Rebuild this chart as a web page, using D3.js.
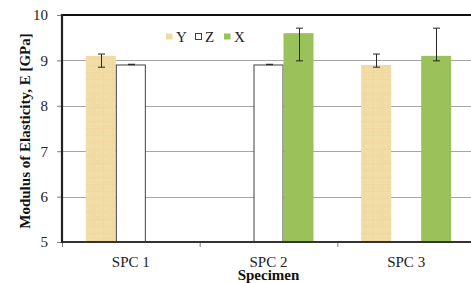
<!DOCTYPE html>
<html>
<head>
<meta charset="utf-8">
<script src="https://d3js.org/d3.v7.min.js"></script>
<style>
body { margin: 0; background: #fff; }
svg { display: block; }
text { font-family: "Liberation Serif", "Times New Roman", serif; }
</style>
</head>
<body>
<svg width="471" height="283"></svg>
<script>

// chart values
var categories = ["SPC 1", "SPC 2", "SPC 3"];
var seriesNames = ["Y", "Z", "X"];
var yValues = [9.1, null, 8.9];
var yErrPlus = [0.04, null, 0.24];
var yErrMinus = [0.25, null, 0.05];
var zValues = [8.91, 8.91, null];
var zErrPlus = [0.005, 0.005, null];
var zErrMinus = [0.005, 0.005, null];
var xValues = [null, 9.6, 9.1];
var xErrPlus = [null, 0.11, 0.61];
var xErrMinus = [null, 0.61, 0.11];
var yTicks = [5, 6, 7, 8, 9, 10];

var svg = d3.select("svg");

// note: "top" is taken by window.top, so plot edges get their own names
var plotL = 62, plotR = 475, plotT = 15, plotB = 242;

var defs = svg.append("defs");
// papyrus-ish texture for the Y bars
var pat = defs.append("pattern")
    .attr("id", "papyrus")
    .attr("patternUnits", "userSpaceOnUse")
    .attr("width", 9).attr("height", 7);
pat.append("rect").attr("width", 9).attr("height", 7).attr("fill", "#f2dca5");
pat.append("rect").attr("x", 0).attr("y", 2).attr("width", 9).attr("height", 1).attr("fill", "#eed59c").attr("opacity", 0.6);
pat.append("rect").attr("x", 4).attr("y", 0).attr("width", 1).attr("height", 7).attr("fill", "#eed49a").attr("opacity", 0.4);
pat.append("rect").attr("x", 6).attr("y", 5).attr("width", 2).attr("height", 1).attr("fill", "#f6e3b4").attr("opacity", 0.7);

var fills = { Y: "url(#papyrus)", Z: "#ffffff", X: "#9bc25a" };
var strokes = { Y: "none", Z: "#404040", X: "none" };

var y = d3.scaleLinear().domain([5, 10]).range([plotB, plotT]);
var x0 = d3.scaleBand().domain(categories).range([plotL, plotR]).padding(0);
var x1 = d3.scaleBand().domain(seriesNames).range([0, x0.bandwidth()])
    .paddingInner(0).paddingOuter(0.794);

// gridlines
svg.append("g").selectAll("line")
  .data(yTicks.filter(function(t) { return t > 5 && t < 10; }))
  .enter().append("line")
    .attr("x1", plotL).attr("x2", plotR)
    .attr("y1", function(d) { return Math.round(y(d)) + 0.5; })
    .attr("y2", function(d) { return Math.round(y(d)) + 0.5; })
    .attr("stroke", "#a6a6a6").attr("stroke-width", 1);

// bars
var rows = [];
categories.forEach(function(c, i) {
  rows.push({ cat: c, s: "Y", v: yValues[i], ep: yErrPlus[i], em: yErrMinus[i] });
  rows.push({ cat: c, s: "Z", v: zValues[i], ep: zErrPlus[i], em: zErrMinus[i] });
  rows.push({ cat: c, s: "X", v: xValues[i], ep: xErrPlus[i], em: xErrMinus[i] });
});
rows = rows.filter(function(d) { return d.v != null; });

svg.append("g").selectAll("rect")
  .data(rows)
  .enter().append("rect")
    .attr("x", function(d) { return x0(d.cat) + x1(d.s) + (d.s == "Z" ? 0.5 : 0); })
    .attr("y", function(d) { return y(d.v) + (d.s == "Z" ? 0.5 : 0); })
    .attr("width", function(d) { return x1.bandwidth() - (d.s == "Z" ? 1 : 0); })
    .attr("height", function(d) { return plotB - y(d.v); })
    .attr("fill", function(d) { return fills[d.s]; })
    .attr("stroke", function(d) { return strokes[d.s]; })
    .attr("stroke-width", 1);

// error bars
var eb = svg.append("g").attr("stroke", "#262626").attr("stroke-width", 1);
rows.forEach(function(d) {
  var cx = Math.round(x0(d.cat) + x1(d.s) + x1.bandwidth() / 2) + 0.5;
  var y1 = y(d.v + d.ep), y2 = y(d.v - d.em);
  eb.append("line").attr("x1", cx).attr("x2", cx).attr("y1", y1).attr("y2", y2);
  eb.append("line").attr("x1", cx - 3.5).attr("x2", cx + 3.5).attr("y1", y1).attr("y2", y1);
  eb.append("line").attr("x1", cx - 3.5).attr("x2", cx + 3.5).attr("y1", y2).attr("y2", y2);
});

// axes
var yAxis = d3.axisLeft(y).tickValues(yTicks).tickFormat(d3.format("d"))
    .tickSize(5).tickPadding(9);
var gy = svg.append("g").attr("transform", "translate(" + plotL + ",0)").call(yAxis);
gy.attr("font-family", null).attr("font-size", null);
gy.select(".domain").remove();
gy.selectAll(".tick line").attr("stroke", "#7f7f7f");
gy.selectAll(".tick text")
  .style("font-size", "15px")
  .attr("fill", "#222");

// x ticks sit on category boundaries
svg.append("g").selectAll("line")
  .data(categories.concat(["end"]))
  .enter().append("line")
    .attr("x1", function(d, i) { return plotL + 0.5 + i * x0.step(); })
    .attr("x2", function(d, i) { return plotL + 0.5 + i * x0.step(); })
    .attr("y1", plotB).attr("y2", plotB + 5)
    .attr("stroke", "#7f7f7f");

svg.append("g").selectAll("text")
  .data(categories)
  .enter().append("text")
    .attr("x", function(d) { return x0(d) + x0.bandwidth() / 2; })
    .attr("y", 266.5)
    .attr("text-anchor", "middle")
    .style("font-size", "15px")
    .attr("fill", "#222")
    .text(function(d) { return d; });

// frame lines
svg.append("line").attr("x1", plotL).attr("x2", 471).attr("y1", plotB).attr("y2", plotB)
  .attr("stroke", "#333").attr("stroke-width", 2);
svg.append("line").attr("x1", plotL - 1).attr("x2", 471).attr("y1", plotT).attr("y2", plotT)
  .attr("stroke", "#111").attr("stroke-width", 2.2);
svg.append("line").attr("x1", plotL).attr("x2", plotL).attr("y1", plotT - 1).attr("y2", plotB + 1)
  .attr("stroke", "#222").attr("stroke-width", 2.2);

// axis titles
svg.append("text")
  .attr("transform", "translate(29.5,131) rotate(-90)")
  .attr("text-anchor", "middle")
  .attr("font-weight", "bold")
  .style("font-size", "15px")
  .attr("fill", "#111")
  .text("Modulus of Elasticity, E [GPa]");

svg.append("text")
  .attr("x", 268.5).attr("y", 279.5)
  .attr("text-anchor", "middle")
  .attr("font-weight", "bold")
  .style("font-size", "15px")
  .attr("fill", "#111")
  .text("Specimen");

// legend
var legend = svg.append("g");
var legX = [166, 195, 224];
seriesNames.forEach(function(s, i) {
  legend.append("rect")
    .attr("x", legX[i] + (s == "Z" ? 0.5 : 0)).attr("y", 33.5)
    .attr("width", s == "Z" ? 6 : 6.5).attr("height", 6)
    .attr("fill", fills[s]).attr("stroke", strokes[s]);
  legend.append("text")
    .attr("x", legX[i] + 10).attr("y", 41.5)
    .style("font-size", "15px")
    .attr("fill", "#222")
    .text(s);
});

</script>
</body>
</html>
